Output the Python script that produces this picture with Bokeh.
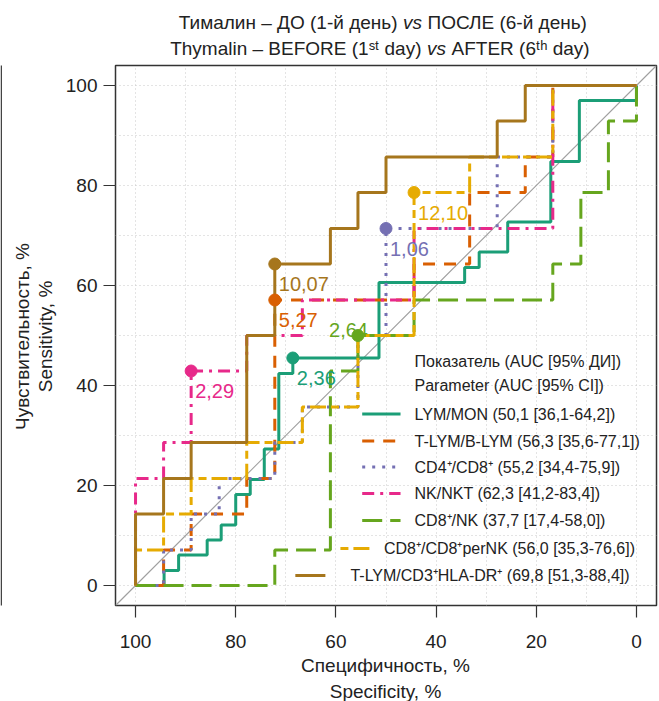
from bokeh.plotting import figure
from bokeh.layouts import column, row
from bokeh.models import Range1d, FixedTicker, Label, Slope, BoxAnnotation
from bokeh.embed import file_html
from bokeh.resources import INLINE

FONT = "'Liberation Sans', Arial, sans-serif"
INK = "#222222"

# ROC corner points: specificity (%) and sensitivity (%) after each step
lym_mon_spec = [100, 94.3, 91.4, 85.7, 82.9, 80.0, 77.1, 74.3, 71.4, 68.6, 51.4, 34.3, 31.4, 25.7, 17.1, 11.4, 0]
lym_mon_sens = [0, 3.0, 6.1, 9.1, 12.1, 18.2, 21.2, 27.3, 42.4, 45.5, 60.6, 63.6, 66.7, 72.7, 84.8, 97.0, 100]

tlym_blym_spec = [100, 94.4, 88.9, 77.8, 72.2, 44.4, 33.3, 22.2, 16.7, 0]
tlym_blym_sens = [0, 7.1, 14.3, 21.4, 57.1, 64.3, 78.6, 85.7, 100, 100]

cd4_cd8_spec = [100, 94.4, 88.9, 83.3, 72.2, 66.7, 55.6, 50.0, 27.8, 16.7, 0]
cd4_cd8_sens = [0, 7.1, 14.3, 21.4, 28.6, 35.7, 50.0, 71.4, 85.7, 100, 100]

nk_nkt_spec = [100, 100, 94.4, 88.9, 77.8, 66.7, 44.4, 16.7, 0]
nk_nkt_sens = [0, 21.4, 28.6, 42.9, 50.0, 57.1, 71.4, 100, 100]

cd8_nk_spec = [100, 72.2, 61.1, 55.6, 44.4, 16.7, 11.1, 5.6, 0]
cd8_nk_sens = [0, 7.1, 42.9, 50.0, 57.1, 64.3, 78.6, 92.9, 100]

cd8_pernk_spec = [100, 100, 94.4, 88.9, 77.8, 66.7, 55.6, 44.4, 33.3, 16.7, 0]
cd8_pernk_sens = [0, 7.1, 14.3, 21.4, 28.6, 35.7, 50.0, 78.6, 85.7, 100, 100]

hla_dr_spec = [100, 100, 94.4, 88.9, 77.8, 72.2, 61.1, 55.6, 50.0, 27.8, 22.2, 0]
hla_dr_sens = [0, 14.3, 21.4, 28.6, 50.0, 64.3, 71.4, 78.6, 85.7, 92.9, 100, 100]

markers = ["LYM/MON", "T-LYM/B-LYM", "CD4⁺/CD8⁺", "NK/NKT", "CD8⁺/NK",
           "CD8⁺/CD8⁺perNK", "T-LYM/CD3⁺HLA-DR⁺"]
auc = ["50,1", "56,3", "55,2", "62,3", "37,7", "56,0", "69,8"]
ci_low = ["36,1", "35,6", "34,4", "41,2", "17,4", "35,3", "51,3"]
ci_high = ["64,2", "77,1", "75,9", "83,4", "58,0", "76,6", "88,4"]

# best cut-off point of each curve and its threshold value
cut_spec = [68.6, 72.2, 50.0, 88.9, 55.6, 44.4, 72.2]
cut_sens = [45.5, 57.1, 71.4, 42.9, 50.0, 78.6, 64.3]
cut_label = ["2,36", "5,27", "1,06", "2,29", "2,64", "12,10", "10,07"]

ticks = [0, 20, 40, 60, 80, 100]

curves = [
    (lym_mon_spec, lym_mon_sens),
    (tlym_blym_spec, tlym_blym_sens),
    (cd4_cd8_spec, cd4_cd8_sens),
    (nk_nkt_spec, nk_nkt_sens),
    (cd8_nk_spec, cd8_nk_sens),
    (cd8_pernk_spec, cd8_pernk_sens),
    (hla_dr_spec, hla_dr_sens),
]

# styling
colors = ["#1B9E77", "#D95F02", "#7570B3", "#E7298A", "#66A61E", "#E6AB02", "#A6761D"]
dashes = ["solid", "12 9", "3 7", "12 6 3 6", "20 8", "8 5 16 5", "solid"]

# ---- main ROC panel ----
p = figure(width=599, height=586,
           x_range=Range1d(104, -4), y_range=Range1d(-4, 104),
           output_backend="svg", toolbar_location=None,
           min_border_left=55, min_border_right=3,
           min_border_top=1, min_border_bottom=45)
p.background_fill_color = "white"
p.border_fill_color = "white"
p.outline_line_color = "#333333"
p.outline_line_width = 1.5

for ax in (p.xaxis[0], p.yaxis[0]):
    ax.ticker = FixedTicker(ticks=ticks)
    ax.axis_line_color = None
    ax.major_tick_out = 12
    ax.major_tick_in = 0
    ax.major_tick_line_color = "#333333"
    ax.major_tick_line_width = 1.2
    ax.minor_tick_line_color = None
    ax.major_label_text_font = FONT
    ax.major_label_text_font_size = "19px"
    ax.major_label_text_color = INK
p.xaxis.major_label_standoff = 17
p.yaxis.major_label_standoff = 6

for g in (p.xgrid[0], p.ygrid[0]):
    g.ticker = FixedTicker(ticks=list(range(0, 101, 10)))
    g.grid_line_color = "#C8C8C8"
    g.grid_line_dash = "1 3"
    g.grid_line_width = 1

diag = Slope(gradient=-1, y_intercept=100, line_color="#A0A0A0", line_width=1.2, level="underlay")
p.add_layout(diag)

for (spec, sens), c, d in zip(curves, colors, dashes):
    p.step(spec, sens, mode="after", line_color=c, line_width=3, line_dash=d)

p.scatter(cut_spec, cut_sens, size=12, color=colors)

# threshold value next to each cut-off point
for i, (x, y, t) in enumerate(zip(cut_spec, cut_sens, cut_label)):
    if i == 4:
        lab = Label(x=x, y=y, text=t, x_offset=10, y_offset=6, text_align="right",
                    text_baseline="alphabetic")
    else:
        lab = Label(x=x, y=y, text=t, x_offset=4, y_offset=-20, text_align="left",
                    text_baseline="alphabetic")
    lab.text_font = FONT
    lab.text_font_size = "20px"
    lab.text_color = colors[i]
    p.add_layout(lab)

# legend drawn inside the frame
key_x0 = [54.75, 54.75, 54.75, 54.75, 54.75, 59.1, 68.1]
key_x1 = [47.1, 47.1, 47.1, 47.1, 47.1, 52.5, 62.1]
text_x = [44.3, 44.3, 44.3, 44.3, 44.3, 50.4, 57.1]
row_y = [34.3, 28.9, 23.7, 18.4, 13.0, 7.4, 2.0]
for i in range(len(markers)):
    p.line([key_x0[i], key_x1[i]], [row_y[i], row_y[i]], line_color=colors[i],
           line_width=3, line_dash=dashes[i])
    p.add_layout(Label(x=text_x[i], y=row_y[i],
                       text=f"{markers[i]} ({auc[i]} [{ci_low[i]}-{ci_high[i]}])",
                       text_align="left", text_baseline="middle", text_font=FONT,
                       text_font_size="16px", text_color=INK))
for t, y in (("Показатель (AUC [95% ДИ])", 44.9), ("Parameter (AUC [95% CI])", 40.1)):
    p.add_layout(Label(x=44.3, y=y, text=t, text_align="left", text_baseline="middle",
                       text_font=FONT, text_font_size="16px", text_color=INK))


# ---- text panels around the ROC panel (page pixel coordinates) ----
def text_panel(w, h, y0=0, **borders):
    f = figure(width=w, height=h, x_range=Range1d(0, w),
               output_backend="svg", toolbar_location=None, min_border=0,
               x_axis_type=None, y_axis_type=None, **borders)
    f.outline_line_color = None
    f.background_fill_color = "white"
    f.border_fill_color = "white"
    return f


def put_text(f, x, y, text, **kw):
    opts = dict(text_font=FONT, text_font_size="19px", text_color=INK,
                text_align="center", text_baseline="middle")
    opts.update(kw)
    f.add_layout(Label(x=x, y=y, text=text, **opts))


top = text_panel(659, 64)
top.y_range = Range1d(64, 0)
title_rows = [
    ("Тималин – ДО (1-й день)", "ПОСЛЕ (6-й день)", 412, 22),
    ("Thymalin – BEFORE (1ˢᵗ day)", "AFTER (6ᵗʰ day)", 436, 48),
]
for left, right, xc, y in title_rows:
    put_text(top, xc - 15, y, left, text_align="right")
    put_text(top, xc, y, "vs", text_font_style="italic")
    put_text(top, xc + 15, y, right, text_align="left")

# side panel: its frame spans the same rows as the ROC frame (page y 65..605)
side = text_panel(60, 586, min_border_top=1, min_border_bottom=45)
side.y_range = Range1d(605, 65)
put_text(side, 22, 336, "Чувствительность, %", angle=90, angle_units="deg")
put_text(side, 45, 336, "Sensitivity, %", angle=90, angle_units="deg")
# edge of the neighbouring panel
side.add_layout(BoxAnnotation(left=0, right=1.5, top=62, bottom=610,
                              fill_color="#444444", fill_alpha=1, line_color=None))

bottom = text_panel(659, 51)
bottom.y_range = Range1d(51, 0)
put_text(bottom, 385, 15, "Специфичность, %")
put_text(bottom, 385, 41, "Specificity, %")

layout = column(top, row(side, p), bottom)
open("out.html", "w").write(file_html(layout, INLINE))
